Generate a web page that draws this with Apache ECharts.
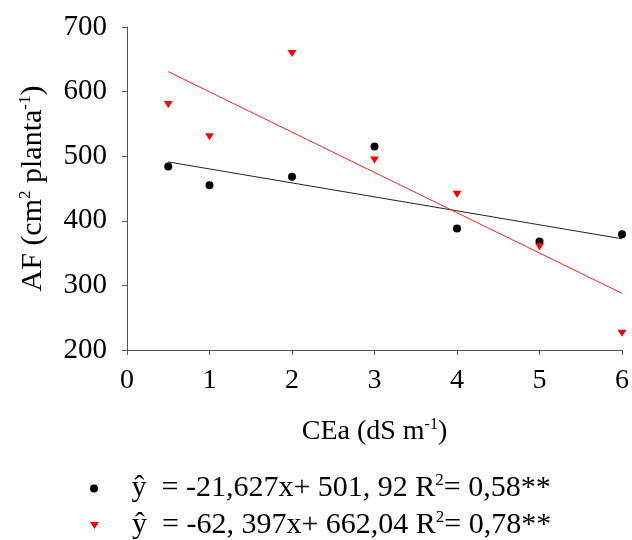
<!DOCTYPE html>
<html>
<head>
<meta charset="utf-8">
<script src="https://cdn.jsdelivr.net/npm/echarts@6/dist/echarts.min.js"></script>
<style>html,body{margin:0;padding:0;background:#fff}#c{width:632px;height:540px}</style>
</head>
<body>
<div id="c"></div>
<script>
const xValues = [0.5, 1, 2, 3, 4, 5, 6];
const seriesBlack = [484, 455, 468, 515, 388, 368, 379];
const seriesRed = [580, 530, 659, 494, 441, 360, 226];
const fitBlack = [-21.627, 501.92];
const fitRed = [-62.397, 662.04];
const fitRange = [0.5, 6];
const nameBlack = 'ŷ  = -21,627x+ 501, 92 R{sup|2}= 0,58**';
const nameRed = 'ŷ  = -62, 397x+ 662,04 R{sup|2}= 0,78**';

const FONT = 'Liberation Serif';
const pts = (ys) => xValues.map((x, i) => [x, ys[i]]);
const fit = (c) => fitRange.map(x => [x, c[0] * x + c[1]]);
const tri = 'path://M0,0 L10,0 L5,8 Z';

const legendText = {
  fontFamily: FONT, fontSize: 30, color: '#000', lineHeight: 32,
  rich: {
    g: { width: 28 },
    sup: { fontFamily: FONT, fontSize: 17, color: '#000', padding: [0, 0, 16, 0] }
  }
};
const mkLegend = (name, top) => ({
  orient: 'vertical', left: 90, top: top, itemWidth: 9, itemHeight: 8, padding: 0,
  data: [name], formatter: (n) => '{g|}' + n, textStyle: legendText,
  selectedMode: false
});

const chart = echarts.init(document.getElementById('c'));
chart.setOption({
  animation: false,
  grid: { left: 127, right: 8, top: 27, bottom: 190 },
  xAxis: {
    type: 'value', min: 0, max: 6, interval: 1,
    name: 'CEa (dS m{sup|-1})', nameLocation: 'middle', nameGap: 67,
    nameTextStyle: { fontFamily: FONT, fontSize: 28, color: '#000',
      rich: { sup: { fontFamily: FONT, fontSize: 16, color: '#000', padding: [0, 0, 14, 0] } } },
    axisLine: { lineStyle: { color: '#555', width: 1 } },
    axisTick: { show: true, length: 5, lineStyle: { color: '#555' } },
    axisLabel: { fontFamily: FONT, fontSize: 28, color: '#000', margin: 17 },
    splitLine: { show: false }
  },
  yAxis: {
    type: 'value', min: 200, max: 700, interval: 100,
    name: 'AF (cm{sup|2} planta{sup|-1})', nameLocation: 'middle', nameGap: 78,
    nameTextStyle: { fontFamily: FONT, fontSize: 30, color: '#000',
      rich: { sup: { fontFamily: FONT, fontSize: 17, color: '#000', padding: [0, 0, 15, 0] } } },
    axisLine: { show: true, lineStyle: { color: '#555', width: 1 } },
    axisTick: { show: true, length: 5, lineStyle: { color: '#555' } },
    axisLabel: { fontFamily: FONT, fontSize: 29, color: '#000', margin: 20 },
    splitLine: { show: false }
  },
  legend: [mkLegend(nameBlack, 472), mkLegend(nameRed, 509)],
  series: [
    { type: 'line', data: fit(fitBlack), symbol: 'none', lineStyle: { color: '#222', width: 1 }, z: 1 },
    { type: 'line', data: fit(fitRed), symbol: 'none', lineStyle: { color: '#ff2020', width: 1 }, z: 1 },
    { name: nameBlack, type: 'scatter', data: pts(seriesBlack), symbol: 'circle', symbolSize: 8,
      itemStyle: { color: '#000', opacity: 1 }, z: 3 },
    { name: nameRed, type: 'scatter', data: pts(seriesRed), symbol: tri, symbolSize: [9, 7],
      itemStyle: { color: '#ff0000', opacity: 1 }, z: 3 }
  ]
});
</script>
</body>
</html>
